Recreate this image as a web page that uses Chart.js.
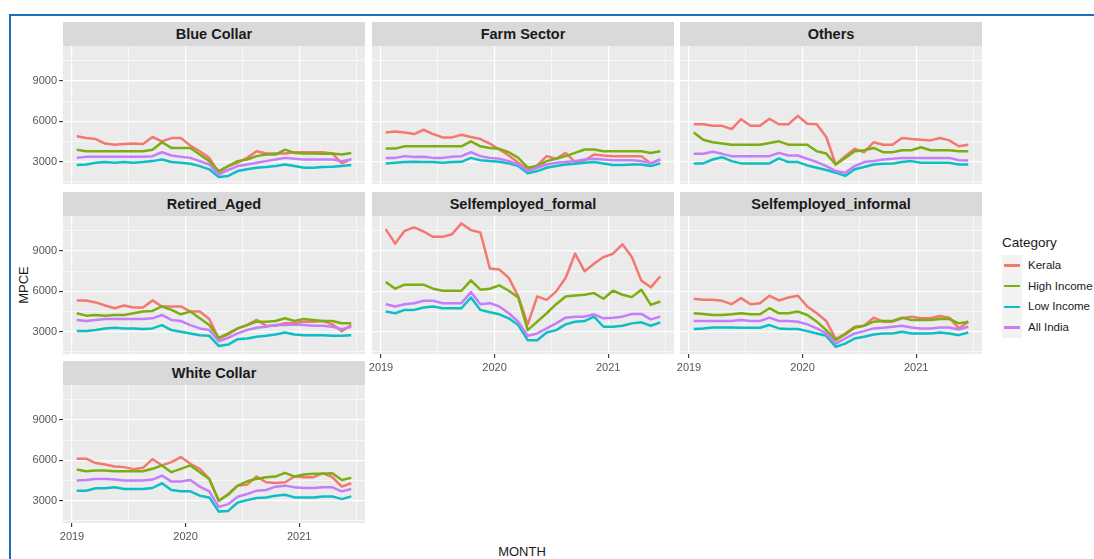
<!DOCTYPE html>
<html>
<head>
<meta charset="utf-8">
<script src="https://cdn.jsdelivr.net/npm/chart.js@4.4.1/dist/chart.umd.min.js"></script>
<style>
  html, body { margin: 0; padding: 0; background: #fff; }
  body { width: 1094px; height: 559px; position: relative; overflow: hidden;
         font-family: 'Liberation Sans', Arial, sans-serif; }
  .frame { position: absolute; left: 9px; top: 14px; right: -4px; bottom: -4px;
           border-top: 2px solid #1b6fbf; border-left: 2px solid #1b6fbf; }
  .strip { position: absolute; height: 24px; background: #d9d9d9; color: #1a1a1a;
           font-weight: bold; font-size: 14.5px; line-height: 25px; text-align: center; }
  canvas { position: absolute; }
  .ytitle { position: absolute; left: 23px; top: 285px; font-size: 13px; color: #1a1a1a;
            transform: translate(-50%, -50%) rotate(-90deg); white-space: nowrap; }
  .xtitle { position: absolute; left: 522px; top: 551px; font-size: 13px; color: #1a1a1a;
            transform: translate(-50%, -50%); white-space: nowrap; }
  .legend { position: absolute; left: 1002px; top: 233px; color: #1a1a1a; }
  .legend .title { font-size: 13.5px; height: 22px; line-height: 20px; }
  .legend .item { height: 20.7px; position: relative; }
  .legend .key { position: absolute; left: 0; top: 0; width: 20px; height: 20.7px; background: #f2f2f2; }
  .legend .key i { position: absolute; left: 2px; right: 2px; top: 9.3px; height: 2.3px; }
  .legend .lab { position: absolute; left: 26px; top: 0; font-size: 11.5px; line-height: 21px; white-space: nowrap; }
</style>
</head>
<body>
<div class="frame"></div>
<div class="ytitle">MPCE</div>
<div class="xtitle">MONTH</div>
<div class="legend" id="legend"><div class="title">Category</div></div>

<script>
// monthly observations, Jan 2019 .. Jun 2021
const months = ['2019-01','2019-02','2019-03','2019-04','2019-05','2019-06','2019-07','2019-08','2019-09','2019-10','2019-11','2019-12',
                '2020-01','2020-02','2020-03','2020-04','2020-05','2020-06','2020-07','2020-08','2020-09','2020-10','2020-11','2020-12',
                '2021-01','2021-02','2021-03','2021-04','2021-05','2021-06'];
const categories = ['Kerala', 'High Income', 'Low Income', 'All India'];
const colors = ['#F37970', '#7CAD12', '#0DBEC4', '#C67DFB'];
const occupations = ['Blue Collar', 'Farm Sector', 'Others', 'Retired_Aged', 'Selfemployed_formal', 'Selfemployed_informal', 'White Collar'];

const yTickLabels = [3000, 6000, 9000];
const xTickLabels = ['2019', '2020', '2021'];

// MPCE per occupation group: Kerala / High Income / Low Income / All India
const blueCollarKerala = [4890,4760,4690,4350,4270,4320,4350,4320,4840,4520,4760,4760,4200,3780,3290,2190,2680,2930,3290,3780,3610,3610,3610,3710,3710,3710,3710,3610,2880,3220];
const blueCollarHigh   = [3900,3780,3780,3780,3780,3780,3780,3780,3900,4450,4030,4030,4030,3540,3050,2310,2680,3050,3170,3420,3540,3540,3900,3660,3610,3610,3590,3610,3540,3660];
const blueCollarLow    = [2760,2800,2930,2980,2930,2980,2930,2980,3050,3170,2980,2930,2850,2680,2440,1870,1950,2310,2440,2560,2610,2680,2800,2680,2560,2560,2610,2630,2680,2760];
const blueCollarIndia  = [3290,3370,3370,3370,3370,3370,3370,3370,3420,3710,3470,3370,3290,3050,2800,2070,2390,2680,2800,2930,3050,3170,3290,3220,3170,3170,3170,3170,3050,3170];

const farmKerala = [5180,5250,5180,5060,5380,5060,4810,4810,5010,4840,4690,4350,3910,3470,2930,2390,2730,3420,3220,3660,2980,3100,3540,3470,3420,3420,3420,3420,2880,3170];
const farmHigh   = [3980,3980,4150,4150,4150,4150,4150,4150,4150,4520,4150,4030,3960,3710,3290,2560,2680,3050,3220,3420,3660,3910,3910,3780,3780,3780,3780,3780,3660,3780];
const farmLow    = [2880,2930,2980,3000,2980,2980,2930,2980,3000,3290,3120,3050,3000,2880,2680,2140,2310,2560,2680,2800,2850,2930,2980,2880,2760,2760,2800,2800,2680,2880];
const farmIndia  = [3290,3290,3420,3350,3370,3290,3290,3370,3420,3710,3420,3290,3220,3050,2800,2310,2560,2800,2930,2980,3050,3170,3220,3170,3120,3120,3120,3050,2880,3170];

const othersKerala = [5790,5790,5670,5670,5430,6160,5670,5670,6190,5790,5790,6410,5820,5790,4840,2800,3420,3960,3710,4450,4270,4270,4760,4690,4640,4590,4760,4590,4150,4270];
const othersHigh   = [5180,4640,4450,4350,4270,4270,4270,4270,4400,4520,4270,4270,4270,3780,3610,2800,3290,3780,3860,4030,3710,3710,3860,3860,4080,3860,3860,3860,3780,3780];
const othersLow    = [2880,2880,3170,3340,3050,2880,2880,2880,2880,3250,2980,2980,2730,2560,2390,2190,1950,2440,2610,2800,2850,2880,2980,3050,2930,2930,2930,2930,2800,2800];
const othersIndia  = [3590,3590,3740,3590,3420,3420,3420,3420,3420,3660,3470,3470,3220,2980,2680,2310,2190,2680,2980,3050,3170,3220,3290,3290,3290,3290,3290,3290,3120,3100];

const retiredKerala = [5330,5330,5180,4950,4750,4950,4800,4800,5330,4880,4880,4880,4500,4500,3950,2500,2800,3250,3500,3880,3450,3450,3630,3630,3750,3750,3800,3550,3050,3500];
const retiredHigh   = [4380,4200,4250,4200,4250,4250,4380,4500,4550,4880,4630,4300,4500,4000,3500,2550,2880,3250,3500,3750,3750,3800,4000,3800,3950,3880,3800,3800,3630,3630];
const retiredLow    = [3050,3050,3130,3250,3300,3250,3250,3200,3250,3500,3130,3000,2880,2750,2700,1950,2050,2450,2500,2630,2700,2800,2950,2800,2750,2750,2750,2700,2700,2750];
const retiredIndia  = [3880,3800,3880,3950,3950,3950,3950,3950,4000,4250,3880,3800,3500,3250,3130,2300,2550,2880,3130,3300,3380,3500,3500,3550,3500,3450,3450,3380,3200,3380];

const formalKerala = [10625,9550,10500,10750,10450,10050,10050,10250,11050,10550,10375,7700,7625,7000,5625,3550,5625,5375,6000,7000,8800,7500,8050,8550,8800,9500,8550,6800,6300,7125];
const formalHigh   = [6700,6200,6500,6500,6500,6200,6050,6050,6050,6825,6125,6200,6450,6050,5550,3125,3750,4375,5050,5625,5700,5750,5875,5450,6050,5750,5575,6125,5000,5250];
const formalLow    = [4500,4375,4625,4625,4800,4875,4750,4750,4750,5550,4625,4450,4300,4000,3500,2375,2375,2950,3125,3550,3750,3800,4125,3375,3375,3450,3625,3700,3450,3700];
const formalIndia  = [5050,4875,5050,5125,5300,5300,5125,5125,5125,5950,5050,5125,4875,4375,3750,2700,2875,3250,3625,4050,4125,4125,4300,4000,4050,4125,4325,4325,3925,4125];

const informalKerala = [5450,5375,5375,5300,5050,5500,5050,5125,5675,5325,5550,5675,4875,4375,3800,2450,2875,3375,3450,4050,3750,3750,4000,4125,4000,4000,4175,4050,3250,3750];
const informalHigh   = [4375,4325,4250,4250,4300,4375,4300,4300,4750,4375,4375,4500,4250,3750,3125,2375,2800,3300,3450,3750,3800,3800,4050,3875,3875,3875,3950,3950,3625,3750];
const informalLow    = [3200,3250,3325,3325,3325,3300,3300,3300,3500,3250,3200,3200,3050,2875,2700,1875,2125,2500,2625,2800,2875,2875,3000,2875,2875,2875,2950,2875,2750,2950];
const informalIndia  = [3800,3800,3800,3800,3800,3875,3800,3800,4050,3800,3800,3750,3550,3250,2875,2125,2500,2875,3050,3250,3300,3375,3450,3325,3250,3250,3325,3325,3175,3375];

const whiteCollarKerala = [6125,6125,5800,5700,5550,5500,5350,5450,6100,5625,5875,6250,5750,5375,4625,3000,3500,4125,4200,4800,4375,4325,4375,4800,4750,4750,5050,4750,4050,4300];
const whiteCollarHigh   = [5325,5200,5250,5250,5200,5200,5200,5200,5375,5625,5125,5375,5625,5125,4625,3000,3450,4125,4450,4625,4750,4800,5075,4800,4950,5000,5000,5050,4550,4700];
const whiteCollarLow    = [3750,3750,3925,3925,4000,3875,3875,3875,3950,4300,3800,3700,3700,3375,3250,2200,2250,2875,3050,3200,3250,3375,3450,3250,3250,3250,3325,3325,3125,3325];
const whiteCollarIndia  = [4500,4550,4625,4625,4575,4500,4500,4500,4575,4875,4425,4425,4550,4050,3700,2550,2750,3300,3500,3750,3800,4050,4125,4000,3950,3950,4000,4000,3700,3875];

const seriesByPanel = [
  [blueCollarKerala, blueCollarHigh, blueCollarLow, blueCollarIndia],
  [farmKerala, farmHigh, farmLow, farmIndia],
  [othersKerala, othersHigh, othersLow, othersIndia],
  [retiredKerala, retiredHigh, retiredLow, retiredIndia],
  [formalKerala, formalHigh, formalLow, formalIndia],
  [informalKerala, informalHigh, informalLow, informalIndia],
  [whiteCollarKerala, whiteCollarHigh, whiteCollarLow, whiteCollarIndia]
];

// months since Jan 2019, plotted mid-month
const monthPos = months.map(m => {
  const [y, mo] = m.split('-').map(Number);
  return (y - 2019) * 12 + (mo - 1) + 0.5;
});
const yearPos = xTickLabels.map(y => (Number(y) - 2019) * 12);
const xGridVals = yearPos.flatMap(p => [p, p + 6]);
const yStep = yTickLabels[1] - yTickLabels[0];
const yGridVals = yTickLabels.flatMap(v => [v - yStep / 2, v]).concat([yTickLabels[yTickLabels.length - 1] + yStep / 2]);

// facet layout (3 columns, wrap)
const colLeft = [63, 372, 680];
const rowTop = [22, 192, 361];
const PANEL_W = 302, STRIP_H = 24, PANEL_H = 138;
const AXIS_W = 40, AXIS_H = 26;

const panelBg = {
  id: 'panelBg',
  beforeDraw(chart) {
    const a = chart.chartArea, c = chart.ctx;
    c.save();
    c.fillStyle = '#ebebeb';
    c.fillRect(a.left, a.top, a.right - a.left, a.bottom - a.top);
    c.restore();
  }
};

const tickFont = { family: "'Liberation Sans', Arial, sans-serif", size: 11 };

function makePanel(idx) {
  const col = idx % 3, row = Math.floor(idx / 3);
  const showY = col === 0;
  // x labels only under the lowest panel of each column
  const showX = idx + 3 >= occupations.length;
  const left = colLeft[col], top = rowTop[row];

  const strip = document.createElement('div');
  strip.className = 'strip';
  strip.style.left = left + 'px';
  strip.style.top = top + 'px';
  strip.style.width = PANEL_W + 'px';
  strip.textContent = occupations[idx];
  document.body.appendChild(strip);

  const cv = document.createElement('canvas');
  cv.width = PANEL_W + AXIS_W;
  cv.height = PANEL_H + AXIS_H;
  cv.style.left = (left - AXIS_W) + 'px';
  cv.style.top = (top + STRIP_H) + 'px';
  document.body.appendChild(cv);

  new Chart(cv, {
    type: 'line',
    data: {
      datasets: categories.map((cat, k) => ({
        label: cat,
        data: seriesByPanel[idx][k].map((v, i) => ({ x: monthPos[i], y: v })),
        borderColor: colors[k],
        borderWidth: 2.5,
        borderJoinStyle: 'round',
        pointRadius: 0,
        tension: 0,
        fill: false,
        order: categories.length - k
      }))
    },
    options: {
      responsive: false,
      animation: false,
      events: [],
      layout: { padding: 0 },
      plugins: { legend: { display: false }, tooltip: { enabled: false } },
      scales: {
        x: {
          type: 'linear', min: -0.95, max: 30.95,
          afterBuildTicks: s => { s.ticks = xGridVals.map(v => ({ value: v })); },
          afterFit: s => { s.height = AXIS_H; s.paddingLeft = 0; s.paddingRight = 0; },
          border: { display: false },
          grid: {
            color: '#ffffff',
            lineWidth: c => (c.tick && c.tick.value % 12 === 0) ? 1.2 : 0.6,
            drawTicks: showX, tickLength: 4, tickWidth: 1.1,
            tickColor: c => (c.tick && c.tick.value % 12 === 0) ? '#333333' : 'rgba(0,0,0,0)'
          },
          ticks: {
            display: showX, autoSkip: false, maxRotation: 0, padding: 3,
            color: '#555555', font: tickFont,
            callback: v => { const i = yearPos.indexOf(v); return i >= 0 ? xTickLabels[i] : ''; }
          }
        },
        y: {
          min: 1350, max: 11600,
          afterBuildTicks: s => { s.ticks = yGridVals.map(v => ({ value: v })); },
          afterFit: s => { s.width = AXIS_W; s.paddingTop = 0; s.paddingBottom = 0; },
          border: { display: false },
          grid: {
            color: '#ffffff',
            lineWidth: c => (c.tick && yTickLabels.includes(c.tick.value)) ? 1.2 : 0.6,
            drawTicks: showY, tickLength: 4, tickWidth: 1.1,
            tickColor: c => (c.tick && yTickLabels.includes(c.tick.value)) ? '#333333' : 'rgba(0,0,0,0)'
          },
          ticks: {
            display: showY, autoSkip: false, padding: 2,
            color: '#555555', font: tickFont,
            callback: v => yTickLabels.includes(v) ? String(v) : ''
          }
        }
      }
    },
    plugins: [panelBg]
  });
}

occupations.forEach((_, i) => makePanel(i));

// legend keys
const legend = document.getElementById('legend');
categories.forEach((cat, k) => {
  const item = document.createElement('div');
  item.className = 'item';
  item.innerHTML = '<div class="key"><i style="background:' + colors[k] + '"></i></div><div class="lab"></div>';
  item.querySelector('.lab').textContent = cat;
  legend.appendChild(item);
});
</script>
</body>
</html>
